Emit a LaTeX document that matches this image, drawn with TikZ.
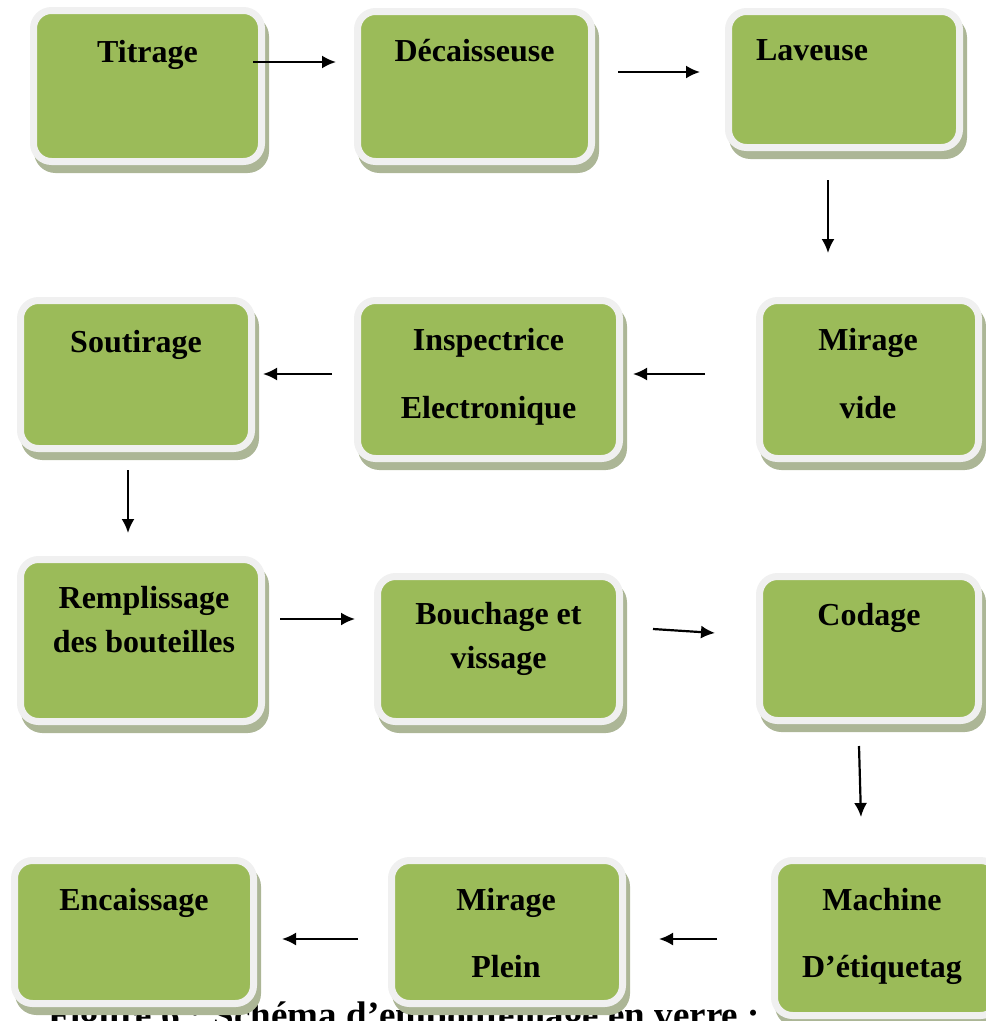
\documentclass[tikz,border=0pt]{standalone}
\usepackage{fontspec}
\setmainfont{Liberation Serif}
\usepackage{tikz}
\usetikzlibrary{arrows.meta}
\usetikzlibrary{positioning,shadows}

\definecolor{boxgreen}{RGB}{155,187,89}
\definecolor{rimgrey}{RGB}{240,240,240}
\definecolor{shadegrey}{RGB}{172,182,150}

\begin{document}
\begin{tikzpicture}[x=1pt,y=-1pt,->,>={Latex[length=14pt,width=13pt]},line width=2.2pt,
                    stage/.style={rectangle,rounded corners=18pt,fill=boxgreen,draw=rimgrey,
                      line width=7pt,inner sep=0pt,outer sep=0pt,
                      general shadow={fill=shadegrey,draw=shadegrey,shadow xshift=4pt,shadow yshift=-8pt}},
                    stage label/.style={anchor=base,inner sep=0pt,font=\bfseries\fontsize{32}{38}\selectfont}]

  \useasboundingbox (0,0) rectangle (986,1021);

  % caption sits behind the last row
  \node[anchor=base west,inner sep=0pt,font=\bfseries\fontsize{37}{44}\selectfont] (caption) at (47,1027.5)
    {Figure 6 : Schéma d’embouteillage en verre :};

  \node[stage,minimum width=228pt,minimum height=151pt] (titrage) at (147.5,86) {};
  \node[stage,minimum width=234pt,minimum height=150pt] (decais) at (474.5,86.5) {};
  \node[stage,minimum width=231pt,minimum height=136pt] (laveuse) at (844,79.5) {};
  \node[stage,minimum width=231pt,minimum height=148pt] (soutir) at (136,374.5) {};
  \node[stage,minimum width=262pt,minimum height=158pt] (inspect) at (488.5,379.5) {};
  \node[stage,minimum width=219pt,minimum height=158pt] (miragev) at (869,379.5) {};
  \node[stage,minimum width=241pt,minimum height=162pt] (rempl) at (141,640.5) {};
  \node[stage,minimum width=242pt,minimum height=145pt] (bouch) at (498.5,649) {};
  \node[stage,minimum width=219pt,minimum height=144pt] (codage) at (869,648.5) {};
  \node[stage,minimum width=239pt,minimum height=143pt] (encais) at (134,932) {};
  \node[stage,minimum width=231pt,minimum height=143pt] (miragep) at (507,932) {};
  \node[stage,minimum width=224pt,minimum height=155pt] (machine) at (886.5,938) {};

  \node[below=51.5pt of titrage.north,stage label] (titrageA) {Titrage};
  \node[below=49.5pt of decais.north,stage label] (decaisA) {Décaisseuse};
  \node[below=48.5pt of laveuse.north,xshift=-32pt,stage label] (laveuseA) {Laveuse};
  \node[below=51.5pt of soutir.north,stage label] (soutirA) {Soutirage};
  \node[below=49.5pt of inspect.north,stage label] (inspectA) {Inspectrice};
  \node[below=117.5pt of inspect.north,stage label] (inspectB) {Electronique};
  \node[below=49.5pt of miragev.north,xshift=-1pt,stage label] (miragevA) {Mirage};
  \node[below=117.5pt of miragev.north,xshift=-1pt,stage label] (miragevB) {vide};
  \node[below=48.5pt of rempl.north,xshift=3pt,stage label] (remplA) {Remplissage};
  \node[below=92.5pt of rempl.north,xshift=3pt,stage label] (remplB) {des bouteilles};
  \node[below=47.5pt of bouch.north,stage label] (bouchA) {Bouchage et};
  \node[below=91.5pt of bouch.north,stage label] (bouchB) {vissage};
  \node[below=48.5pt of codage.north,stage label] (codageA) {Codage};
  \node[below=49.5pt of encais.north,stage label] (encaisA) {Encaissage};
  \node[below=49.5pt of miragep.north,xshift=-1pt,stage label] (miragepA) {Mirage};
  \node[below=116.5pt of miragep.north,xshift=-1pt,stage label] (miragepB) {Plein};
  \node[below=49.5pt of machine.north,xshift=-4.5pt,stage label] (machineA) {Machine};
  \node[below=116.5pt of machine.north,xshift=-4.5pt,stage label] (machineB) {D’étiquetag};

  \path
    ([xshift=-8.5pt,yshift=24pt]titrage.east) edge ([xshift=-21.5pt,yshift=24.5pt]decais.west)
    ([xshift=26.5pt,yshift=14.5pt]decais.east) edge ([xshift=-28.5pt,yshift=7.5pt]laveuse.west)
    ([xshift=-16pt,yshift=-32.5pt]laveuse.south) edge ([xshift=-41pt,yshift=47.5pt]miragev.north)
    ([xshift=-54.5pt,yshift=5.5pt]miragev.west) edge ([xshift=13.5pt,yshift=5.5pt]inspect.east)
    ([xshift=-25.5pt,yshift=5.5pt]inspect.west) edge ([xshift=11.5pt,yshift=0.5pt]soutir.east)
    ([xshift=-8pt,yshift=-21.5pt]soutir.south) edge ([xshift=-13pt,yshift=26.5pt]rempl.north)
    ([xshift=18.5pt,yshift=21.5pt]rempl.east) edge ([xshift=-22.5pt,yshift=30pt]bouch.west)
    ([xshift=33.5pt,yshift=20pt]bouch.east) edge ([xshift=-44.5pt,yshift=15.5pt]codage.west)
    ([xshift=-10pt,yshift=-25.5pt]codage.south) edge ([xshift=-25.5pt,yshift=43.5pt]machine.north)
    ([xshift=-57.5pt,yshift=-1pt]machine.west) edge ([xshift=36.5pt,yshift=-7pt]miragep.east)
    ([xshift=-33.5pt,yshift=-7pt]miragep.west) edge ([xshift=28.5pt,yshift=-7pt]encais.east);
\end{tikzpicture}
\end{document}
